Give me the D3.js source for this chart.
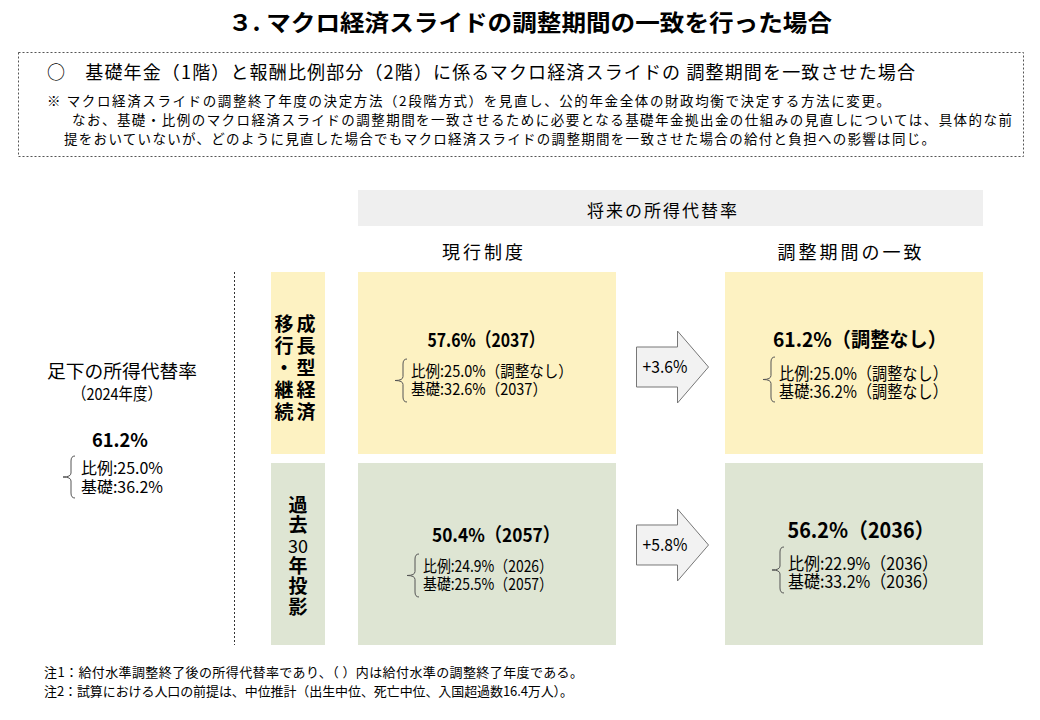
<!DOCTYPE html>
<html>
<head>
<meta charset="utf-8">
<script src="https://cdn.jsdelivr.net/npm/d3@7"></script>
<style>
  body { margin: 0; background: white; }
  text { font-family: "Noto Sans CJK JP", "Noto Sans", sans-serif; fill: #000; }
</style>
</head>
<body>
<script>
// chart data
const title = "３. マクロ経済スライドの調整期間の一致を行った場合";
const notes = [
  "○　基礎年金（1階）と報酬比例部分（2階）に係るマクロ経済スライドの 調整期間を一致させた場合",
  "※ マクロ経済スライドの調整終了年度の決定方法（2段階方式）を見直し、公的年金全体の財政均衡で決定する方法に変更。",
  "なお、基礎・比例のマクロ経済スライドの調整期間を一致させるために必要となる基礎年金拠出金の仕組みの見直しについては、具体的な前",
  "提をおいていないが、どのように見直した場合でもマクロ経済スライドの調整期間を一致させた場合の給付と負担への影響は同じ。"
];
const footnotes = [
  "注1：給付水準調整終了後の所得代替率であり、（ ）内は給付水準の調整終了年度である。",
  "注2：試算における人口の前提は、中位推計（出生中位、死亡中位、入国超過数16.4万人）。"
];

const scenarios = ["成長型経済（移行・継続）", "過去30年投影"];
const columns = ["現行制度", "調整期間の一致"];

const baseTotal = 61.2, baseHirei = 25.0, baseKiso = 36.2;

// [scenario][column]
const totals    = [[57.6, 61.2], [50.4, 56.2]];
const totalYear = [["2037", "調整なし"], ["2057", "2036"]];
const hirei     = [[25.0, 25.0], [24.9, 22.9]];
const hireiYear = [["調整なし", "調整なし"], ["2026", "2036"]];
const kiso      = [[32.6, 36.2], [25.5, 33.2]];
const kisoYear  = [["2037", "調整なし"], ["2057", "2036"]];
const gains     = ["+3.6%", "+5.8%"];

const rowColors = ["#fdf2c2", "#dee5d3"];

const W = 1040, H = 720;
const svg = d3.select("body").append("svg")
  .attr("width", W).attr("height", H);

svg.append("rect").attr("width", W).attr("height", H).attr("fill", "white");

// squeeze a text horizontally to the wanted width
function squeeze(t, w) {
  return t.attr("textLength", w).attr("lengthAdjust", "spacingAndGlyphs");
}

// two stacked lines in one text element, scaled so the first line spans w
function twoLines(px, py, size, lines, w, gap) {
  const t = svg.append("text")
    .attr("font-size", size).attr("fill", "#333");
  const spans = lines.map((l, k) => t.append("tspan")
    .attr("x", 0).attr("dy", k === 0 ? 0 : gap).text(l));
  const r = w / spans[0].node().getComputedTextLength();
  t.attr("transform", `translate(${px},${py}) scale(${r.toFixed(3)},1)`);
  return t;
}

// title
squeeze(svg.append("text")
  .attr("x", 530).attr("y", 31)
  .attr("text-anchor", "middle")
  .attr("font-size", 23).attr("font-weight", "bold")
  .text(title), 604);

// dashed explanation box
svg.append("rect")
  .attr("x", 18.5).attr("y", 52.5).attr("width", 1005).attr("height", 104)
  .attr("fill", "none").attr("stroke", "#555").attr("stroke-dasharray", "2,2");

const noteX = [47, 47, 72, 64];
const noteY = [79, 106, 125, 144];
const noteLen = [868, 843, 940, 871];
const noteSize = [18, 13.5, 13.5, 13.5];
notes.forEach((t, i) => {
  svg.append("text")
    .attr("x", noteX[i]).attr("y", noteY[i])
    .attr("font-size", noteSize[i])
    .attr("textLength", noteLen[i]).attr("lengthAdjust", "spacing")
    .text(t);
});

// scales
const y = d3.scaleBand().domain(scenarios).range([272, 645]).paddingInner(0.047);
const x = d3.scaleBand().domain(columns).range([358, 983]).paddingInner(0.297);

// header
svg.append("rect")
  .attr("x", x.range()[0]).attr("y", 190)
  .attr("width", x.range()[1] - x.range()[0]).attr("height", 36)
  .attr("fill", "#efefef");
svg.append("text")
  .attr("x", 663).attr("y", 217)
  .attr("text-anchor", "middle").attr("font-size", 17).attr("letter-spacing", 2)
  .text("将来の所得代替率");

svg.selectAll("text.colhead").data(columns).join("text")
  .attr("class", "colhead")
  .attr("x", d => x(d) + x.bandwidth() / 2 - 3)
  .attr("y", 259)
  .attr("text-anchor", "middle").attr("font-size", 18).attr("letter-spacing", 3)
  .text(d => d);

// dashed divider
svg.append("line")
  .attr("x1", 234.5).attr("x2", 234.5).attr("y1", 272).attr("y2", 645)
  .attr("stroke", "#333").attr("stroke-dasharray", "2,2");

// curly brace: vertical stroke at bx+3, point at bx-5
function brace(bx, top, bottom) {
  const mid = (top + bottom) / 2;
  svg.append("path")
    .attr("d", `M${bx + 7},${top} Q${bx + 3},${top} ${bx + 3},${top + 5} L${bx + 3},${mid - 4} Q${bx + 3},${mid} ${bx - 5},${mid} Q${bx + 3},${mid} ${bx + 3},${mid + 4} L${bx + 3},${bottom - 5} Q${bx + 3},${bottom} ${bx + 7},${bottom}`)
    .attr("fill", "none").attr("stroke", "#555").attr("stroke-width", 1);
}
const fmt = d3.format(".1f");

// current rate (left)
squeeze(svg.append("text").attr("x", 47).attr("y", 378)
  .attr("font-size", 18.5).text("足下の所得代替率"), 150);
squeeze(svg.append("text").attr("x", 72).attr("y", 400)
  .attr("font-size", 16.5).text("（2024年度）"), 90);
squeeze(svg.append("text").attr("x", 120).attr("y", 447)
  .attr("text-anchor", "middle").attr("font-size", 19).attr("font-weight", "bold")
  .text(fmt(baseTotal) + "%"), 56);
brace(68, 456, 498);
twoLines(81, 474, 16, ["比例:" + fmt(baseHirei) + "%", "基礎:" + fmt(baseKiso) + "%"], 82, 19);

// text placement inside each value cell (offsets from cell top-left)
// [total centre x, total width, total baseline, sub x, sub width, sub baseline, brace top, brace bottom]
const cellLayout = [
  [[128, 117, 75, 53, 162, 105, 87, 130], [135, 174, 75, 54, 169, 108, 85, 130]],
  [[138, 128, 79, 65, 130, 109, 91, 134], [136, 147, 75, 63, 150, 107, 84, 130]]
];
const totalSize = [[19, 20], [19, 21]];
const subSize = [[16, 17], [16, 17.5]];

// scenario rows
scenarios.forEach((s, i) => {
  const top = y(s), bh = y.bandwidth();

  // category label cell
  svg.append("rect")
    .attr("x", 271).attr("y", top).attr("width", 54).attr("height", bh)
    .attr("fill", rowColors[i]);

  const vert = (t, cx, cy, step) => svg.append("text")
    .attr("x", cx).attr("y", cy)
    .attr("text-anchor", "middle")
    .style("writing-mode", "vertical-rl")
    .attr("font-size", 19).attr("font-weight", "bold")
    .attr("letter-spacing", step - 19)
    .text(t);

  if (i === 0) {
    vert("成長型経済", 306, top + 97, 22);
    vert("移行・継続", 284, top + 97, 22);
  } else {
    vert("過去", 298, top + 52, 20);
    svg.append("text")
      .attr("x", 298).attr("y", top + 82)
      .attr("text-anchor", "middle").attr("dominant-baseline", "central")
      .attr("font-size", 18).text("30");
    vert("年投影", 298, top + 124, 20.5);
  }

  // value cells
  columns.forEach((col, j) => {
    const x0 = x(col), bw = x.bandwidth();
    const L = cellLayout[i][j];
    svg.append("rect")
      .attr("x", x0).attr("y", top).attr("width", bw).attr("height", bh)
      .attr("fill", rowColors[i]);
    squeeze(svg.append("text")
      .attr("x", x0 + L[0]).attr("y", top + L[2])
      .attr("text-anchor", "middle").attr("font-size", totalSize[i][j])
      .attr("font-weight", "bold")
      .text(fmt(totals[i][j]) + "%（" + totalYear[i][j] + "）"), L[1]);
    brace(x0 + L[3] - 11, top + L[6], top + L[7]);
    twoLines(x0 + L[3], top + L[5], subSize[i][j], [
      "比例:" + fmt(hirei[i][j]) + "%（" + hireiYear[i][j] + "）",
      "基礎:" + fmt(kiso[i][j]) + "%（" + kisoYear[i][j] + "）"
    ], L[4], 18);
  });

  // arrow between the two cells
  const ax = (x(columns[0]) + x.bandwidth() + x(columns[1])) / 2 - 34;
  const ay = top + bh / 2 + (i === 0 ? 4 : -9);
  svg.append("path")
    .attr("d", `M${ax},${ay - 20} L${ax + 41},${ay - 20} L${ax + 41},${ay - 36} L${ax + 72},${ay} L${ax + 41},${ay + 36} L${ax + 41},${ay + 20} L${ax},${ay + 20} Z`)
    .attr("fill", "#f2f2f2").attr("stroke", "#777").attr("stroke-width", 1);
  squeeze(svg.append("text")
    .attr("x", ax + 6).attr("y", ay + 6)
    .attr("font-size", 17)
    .text(gains[i]), 45);
});

// footnotes
const footLen = [539, 529];
footnotes.forEach((t, i) => {
  svg.append("text")
    .attr("x", 44).attr("y", 677 + i * 19)
    .attr("font-size", 13)
    .attr("textLength", footLen[i]).attr("lengthAdjust", "spacing")
    .text(t);
});
</script>
</body>
</html>
